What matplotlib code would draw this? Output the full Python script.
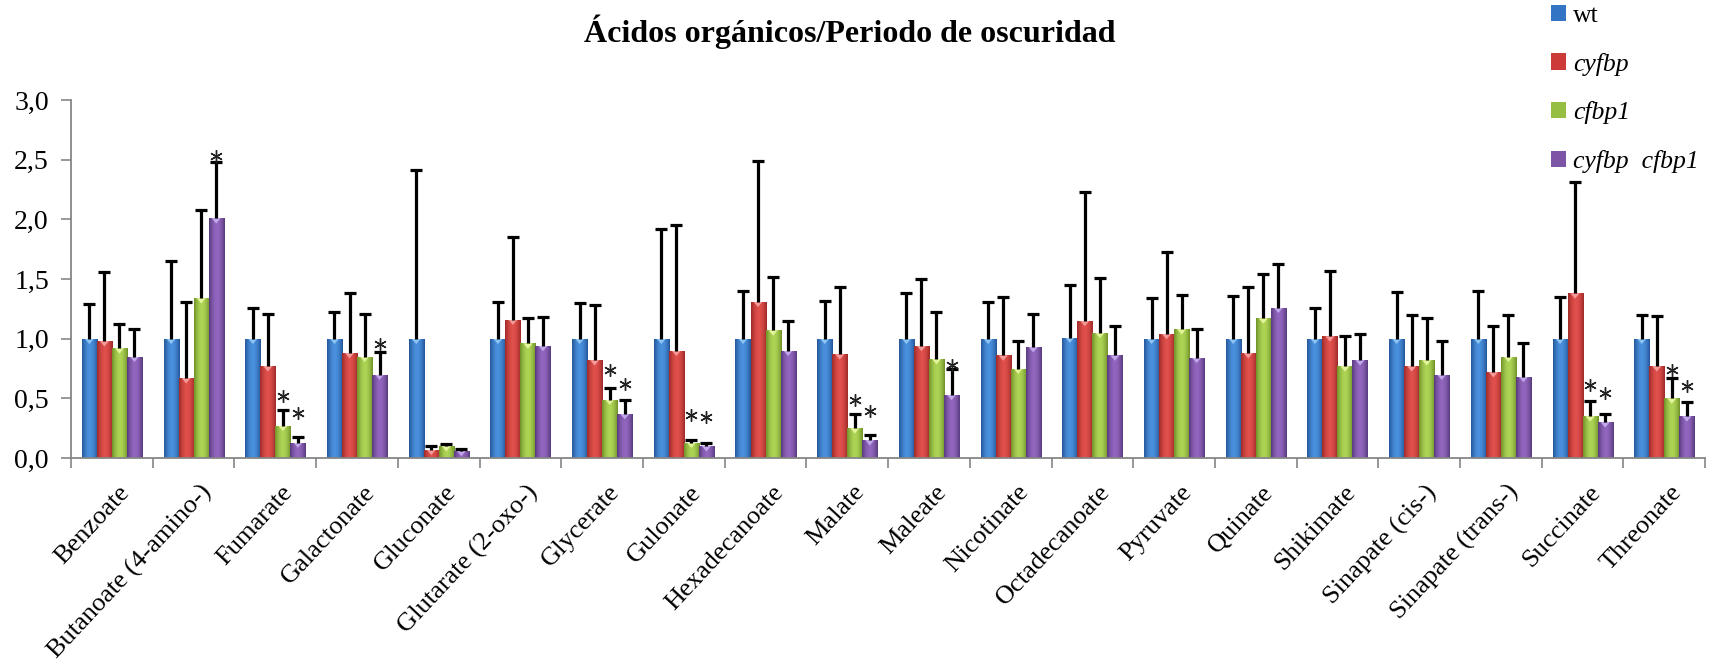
import numpy as np
import matplotlib
matplotlib.use('Agg')
import matplotlib.pyplot as plt
from matplotlib.patches import Polygon
from matplotlib.transforms import ScaledTranslation

# Ácidos orgánicos, periodo de oscuridad (valores relativos a wt)
categories = ['Benzoate', 'Butanoate (4-amino-)', 'Fumarate', 'Galactonate', 'Gluconate',
              'Glutarate (2-oxo-)', 'Glycerate', 'Gulonate', 'Hexadecanoate', 'Malate',
              'Maleate', 'Nicotinate', 'Octadecanoate', 'Pyruvate', 'Quinate',
              'Shikimate', 'Sinapate (cis-)', 'Sinapate (trans-)', 'Succinate', 'Threonate']

series_names = ['wt', 'cyfbp', 'cfbp1', 'cyfbp  cfbp1']

wt = [1.00, 1.00, 1.00, 1.00, 1.00, 1.00, 1.00, 1.00, 1.00, 1.00,
      1.00, 1.00, 1.01, 1.00, 1.00, 1.00, 1.00, 1.00, 1.00, 1.00]
wt_sd = [0.29, 0.65, 0.26, 0.22, 1.41, 0.31, 0.30, 0.92, 0.40, 0.32,
         0.38, 0.31, 0.44, 0.34, 0.36, 0.26, 0.39, 0.40, 0.35, 0.20]

cyfbp = [0.98, 0.67, 0.77, 0.88, 0.07, 1.16, 0.82, 0.90, 1.31, 0.87,
         0.94, 0.86, 1.15, 1.04, 0.88, 1.02, 0.77, 0.72, 1.38, 0.77]
cyfbp_sd = [0.58, 0.64, 0.44, 0.50, 0.03, 0.69, 0.46, 1.05, 1.18, 0.56,
            0.56, 0.49, 1.08, 0.69, 0.55, 0.55, 0.43, 0.39, 0.93, 0.42]

cfbp1 = [0.92, 1.34, 0.27, 0.85, 0.10, 0.96, 0.49, 0.13, 1.07, 0.25,
         0.83, 0.75, 1.05, 1.08, 1.17, 0.77, 0.82, 0.85, 0.35, 0.50]
cfbp1_sd = [0.20, 0.74, 0.13, 0.36, 0.02, 0.21, 0.10, 0.02, 0.45, 0.12,
            0.39, 0.23, 0.46, 0.29, 0.37, 0.25, 0.35, 0.35, 0.13, 0.17]

double = [0.85, 2.01, 0.13, 0.70, 0.06, 0.94, 0.37, 0.10, 0.90, 0.15,
          0.53, 0.93, 0.86, 0.84, 1.26, 0.82, 0.70, 0.68, 0.30, 0.35]
double_sd = [0.23, 0.47, 0.05, 0.19, 0.015, 0.24, 0.12, 0.03, 0.25, 0.045,
             0.22, 0.28, 0.25, 0.24, 0.37, 0.22, 0.28, 0.28, 0.07, 0.12]

# asteriscos de significancia: (metabolito, serie, altura)
stars = [(1, 3, 2.53), (2, 2, 0.52), (2, 3, 0.38), (3, 3, 0.955), (6, 2, 0.74),
         (6, 3, 0.62), (7, 2, 0.357), (7, 3, 0.34), (9, 2, 0.49), (9, 3, 0.39),
         (10, 3, 0.78), (18, 2, 0.615), (18, 3, 0.545), (19, 2, 0.74), (19, 3, 0.60)]

values = [wt, cyfbp, cfbp1, double]
errors = [wt_sd, cyfbp_sd, cfbp1_sd, double_sd]

# color base, borde oscuro, centro claro, triangulo superior
palette = [
    ('#3474C4', '#24569A', '#4A90DC', '#8CC4F4'),
    ('#CC3B37', '#9E2A27', '#E0504C', '#F59A98'),
    ('#96BE42', '#6F9128', '#AED456', '#E2F59A'),
    ('#7C55A6', '#583B7E', '#9266BE', '#C2A6EC'),
]

serif = 'Liberation Serif'
gray = '#868686'

fig = plt.figure(figsize=(17.13, 6.67), dpi=100)
ax = fig.add_axes([0.0415, 0.3133, 0.9539, 0.5367])

x = np.arange(len(categories))
bw = 0.184
offsets = (np.arange(4) - 1.5) * bw

t = np.linspace(0, 1, 40)
profile = 1 - np.abs(2 * t - 1) ** 1.8


def hex_rgb(c):
    return np.array(matplotlib.colors.to_rgb(c))


handles = []
for i in range(4):
    base, edge, center, light = palette[i]
    vals = np.array(values[i])
    sd = np.array(errors[i])
    xs = x + offsets[i]
    bars = ax.bar(xs, vals, bw, color=base, linewidth=0, zorder=2, label=series_names[i])
    handles.append(bars)

    grad = hex_rgb(edge)[None, :] + (hex_rgb(center) - hex_rgb(edge))[None, :] * profile[:, None]
    grad = grad[None, :, :]
    for b in bars:
        x0, w, h = b.get_x(), b.get_width(), b.get_height()
        im = ax.imshow(grad, extent=[x0, x0 + w, 0, h], aspect='auto',
                       interpolation='bilinear', zorder=2.1)
        im.set_clip_path(b)
        tri = Polygon([(x0 + 0.2 * w, h), (x0 + 0.8 * w, h), (x0 + 0.5 * w, h - 0.045)],
                      closed=True, facecolor=light, edgecolor='none', zorder=2.2)
        ax.add_patch(tri)
        tri.set_clip_path(b)

    # solo la barra de error positiva
    eb = ax.errorbar(xs, vals, yerr=[np.zeros_like(sd), sd], fmt='none', ecolor='black',
                     elinewidth=2.3, capsize=4.6, capthick=2.3, zorder=3)
    for cap in eb[1]:
        if np.allclose(cap.get_ydata(), vals):
            cap.set_visible(False)

for ci, si, yv in stars:
    ax.plot(x[ci] + offsets[si], yv, marker=(6, 2, 0), ms=9, mew=1.0,
            color='#222222', zorder=4, linestyle='none')

ax.set_xlim(-0.5, len(categories) - 0.5)
ax.set_ylim(0, 3)

ax.set_yticks(np.arange(0, 3.01, 0.5))
ax.set_yticklabels([f'{v:.1f}'.replace('.', ',') for v in np.arange(0, 3.01, 0.5)],
                   family=serif, fontsize=20)
ax.tick_params(axis='y', length=7, width=1.2, color=gray, pad=9)

ax.set_xticks(np.arange(-0.5, len(categories), 1))
ax.set_xticklabels([])
ax.tick_params(axis='x', which='major', length=7, width=1.2, color=gray)
ax.set_xticks(x, minor=True)
ax.set_xticklabels(categories, minor=True, rotation=47, ha='right', va='center',
                   rotation_mode='anchor', family=serif, fontsize=19)
ax.tick_params(axis='x', which='minor', length=0, pad=22)
shift = ScaledTranslation(0.14, 0, fig.dpi_scale_trans)
for lbl in ax.get_xticklabels(minor=True):
    lbl.set_transform(lbl.get_transform() + shift)

for s in ['top', 'right']:
    ax.spines[s].set_visible(False)
for s in ['left', 'bottom']:
    ax.spines[s].set_color(gray)
    ax.spines[s].set_linewidth(1.3)

fig.text(0.496, 0.953, 'Ácidos orgánicos/Periodo de oscuridad', ha='center', va='center',
         fontsize=23, fontweight='bold', family=serif)

leg = fig.legend(handles, series_names, loc='upper left', bbox_to_anchor=(0.9054, 0.993),
                 frameon=False, prop={'family': serif, 'size': 18.5},
                 handlelength=0.6, handleheight=0.6, handletextpad=0.25,
                 labelspacing=1.0, borderpad=0, borderaxespad=0)
for txt in leg.get_texts()[1:]:
    txt.set_fontstyle('italic')

fig.savefig('out.png', dpi=100)
